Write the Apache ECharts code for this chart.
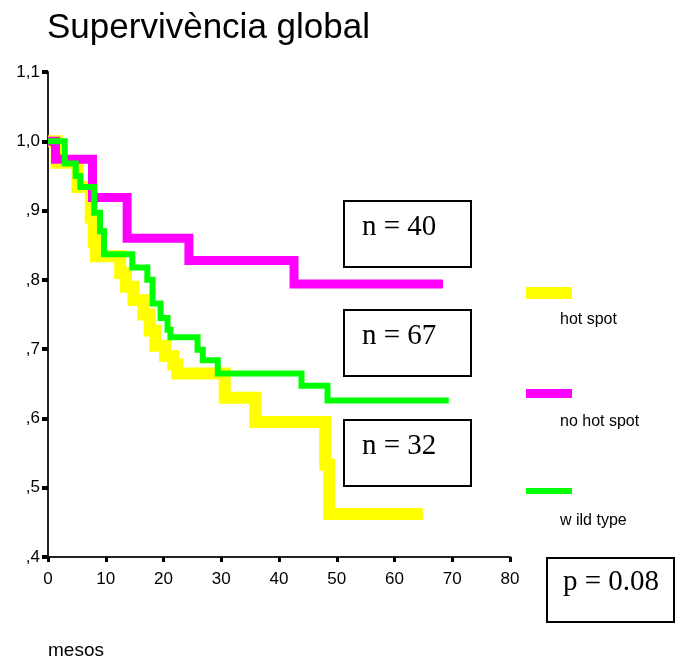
<!DOCTYPE html>
<html>
<head>
<meta charset="utf-8">
<script src="https://cdn.jsdelivr.net/npm/echarts@6/dist/echarts.min.js"></script>
<style>
html,body{margin:0;padding:0;background:#fff;}
#chart{width:675px;height:664px;}
</style>
</head>
<body>
<div id="chart"></div>
<script>
// ---- data ----
const seriesNames = ['hot spot', 'no hot spot', 'w ild type'];
const hotSpotTimes = [0, 1.5, 5.1, 7.4, 7.9, 8.3, 12.5, 13.5, 14.8, 16.5, 17.6, 18.6, 20.3, 21.7, 22.4, 30.6, 35.9, 48.0, 48.7, 64.9];
const hotSpotSurv  = [1.0, 0.969, 0.934, 0.89, 0.855, 0.834, 0.81, 0.79, 0.771, 0.75, 0.727, 0.705, 0.69, 0.678, 0.665, 0.630, 0.595, 0.533, 0.462, 0.462];
const noHotSpotTimes = [0, 1.3, 7.7, 13.7, 24.4, 42.6, 68.4];
const noHotSpotSurv  = [1.0, 0.974, 0.919, 0.860, 0.828, 0.794, 0.794];
const wildTypeTimes = [0, 2.9, 4.8, 5.6, 8.0, 9.0, 9.7, 14.6, 17.2, 18.1, 19.5, 20.7, 21.2, 25.9, 26.8, 29.4, 43.9, 48.4, 69.4];
const wildTypeSurv  = [1.0, 0.968, 0.95, 0.934, 0.897, 0.87, 0.837, 0.818, 0.80, 0.766, 0.745, 0.728, 0.717, 0.699, 0.684, 0.665, 0.647, 0.626, 0.626];
const nLabels = ['n = 40', 'n = 67', 'n = 32'];
const pLabel = 'p = 0.08';
const xTicks = [0, 10, 20, 30, 40, 50, 60, 70, 80];
const yTicks = [0.4, 0.5, 0.6, 0.7, 0.8, 0.9, 1.0, 1.1];

function pairs(t, s) { return t.map((v, i) => [v, s[i]]); }
function yFmt(v) {
  const s = Number(v).toFixed(1);
  return s.startsWith('0.') ? ',' + s.slice(2) : s.replace('.', ',');
}

const colors = ['#FFFF00', '#FF00FF', '#00FF00'];
const widths = [12, 9, 6];
const datasets = [pairs(hotSpotTimes, hotSpotSurv), pairs(noHotSpotTimes, noHotSpotSurv), pairs(wildTypeTimes, wildTypeSurv)];

const chart = echarts.init(document.getElementById('chart'), null, {renderer: 'canvas'});

const serif = '"Liberation Serif", "Times New Roman", serif';
const sans = '"Liberation Sans", Arial, sans-serif';
const boxTops = [200, 309, 419];
const graphics = [];
boxTops.forEach((top, i) => {
  graphics.push({type: 'rect', left: 343, top: top, shape: {width: 127, height: 66},
    style: {fill: '#fff', stroke: '#000', lineWidth: 2}, z: 10});
  graphics.push({type: 'text', left: 362, top: top + 13, z: 11,
    style: {text: nLabels[i], font: '29px ' + serif, fill: '#000'}});
});
graphics.push({type: 'rect', left: 546, top: 557, shape: {width: 127, height: 64},
  style: {fill: '#fff', stroke: '#000', lineWidth: 2}, z: 10});
graphics.push({type: 'text', left: 563, top: 568, z: 11,
  style: {text: pLabel, font: '29px ' + serif, fill: '#000'}});
// legend
const legTops = [287, 389, 488];
const legH = [12, 9, 6];
seriesNames.forEach((nm, i) => {
  graphics.push({type: 'rect', left: 526, top: legTops[i], shape: {width: 46, height: legH[i]},
    style: {fill: colors[i]}, z: 10});
  graphics.push({type: 'text', left: 560, top: legTops[i] + 25, z: 10,
    style: {text: nm, font: '16px ' + sans, fill: '#000'}});
});
// title and x name
graphics.push({type: 'text', left: 47, top: 11, z: 10,
  style: {text: 'Supervivència global', font: '35px ' + sans, fill: '#000'}});
graphics.push({type: 'text', left: 48, top: 641, z: 10,
  style: {text: 'mesos', font: '19px ' + sans, fill: '#000'}});

const option = {
  animation: false,
  backgroundColor: '#fff',
  grid: {left: 48, right: 165, top: 72, bottom: 107, containLabel: false},
  xAxis: {
    type: 'value', min: 0, max: 80, interval: 10,
    axisLine: {show: true, onZero: false, lineStyle: {color: '#222', width: 2}},
    axisTick: {show: true, length: 5, lineStyle: {color: '#000', width: 3}},
    axisLabel: {margin: 14, color: '#000', fontSize: 17, fontFamily: sans,
      formatter: v => xTicks.includes(v) ? String(v) : ''},
    splitLine: {show: false}
  },
  yAxis: {
    type: 'value', min: 0.4, max: 1.1, interval: 0.1,
    axisLine: {show: true, onZero: false, lineStyle: {color: '#222', width: 2}},
    axisTick: {show: true, length: 6, lineStyle: {color: '#000', width: 4}},
    axisLabel: {margin: 8, color: '#000', fontSize: 17, fontFamily: sans,
      formatter: v => yFmt(v)},
    splitLine: {show: false}
  },
  series: datasets.map((d, i) => ({
    name: seriesNames[i], type: 'line', step: 'end', data: d, symbol: 'none',
    lineStyle: {color: colors[i], width: widths[i], cap: 'butt', join: 'miter'},
    z: 2 + i, silent: true
  })),
  graphic: graphics
};
chart.setOption(option);
</script>
</body>
</html>
